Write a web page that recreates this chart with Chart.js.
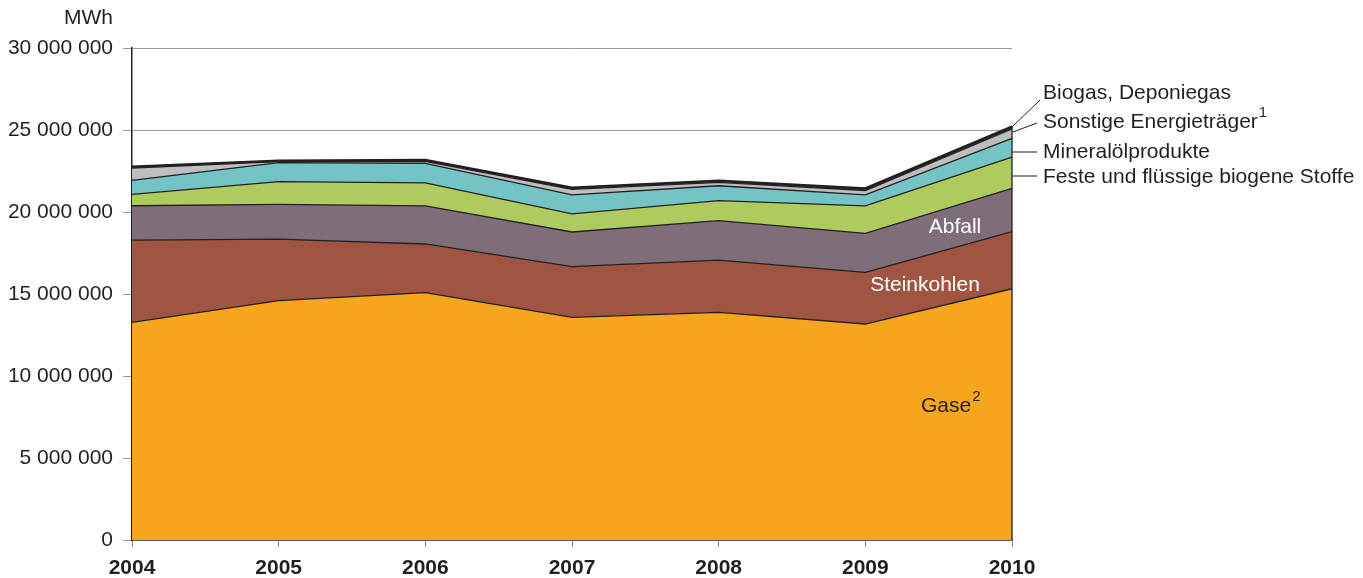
<!DOCTYPE html>
<html>
<head>
<meta charset="utf-8">
<script src="https://cdn.jsdelivr.net/npm/chart.js@4/dist/chart.umd.min.js"></script>
<style>
  body { margin: 0; background: #fff; }
  canvas { display: block; }
</style>
</head>
<body>
<canvas id="chartCanvas" width="1363" height="578"></canvas>
<script>
// --- Data (MWh) ---
const years = ["2004", "2005", "2006", "2007", "2008", "2009", "2010"];
const gase = [13270000, 14590000, 15080000, 13580000, 13880000, 13170000, 15320000];
const steinkohlen = [5020000, 3750000, 2970000, 3090000, 3190000, 3150000, 3480000];
const abfall = [2090000, 2130000, 2320000, 2110000, 2400000, 2380000, 2640000];
const feste = [700000, 1380000, 1400000, 1100000, 1220000, 1670000, 1900000];
const mineral = [850000, 1160000, 1200000, 1160000, 910000, 670000, 1150000];
const sonstige = [750000, 60000, 120000, 340000, 210000, 260000, 570000];
const biogas = [80000, 60000, 80000, 100000, 100000, 140000, 140000];
const yTicks = [0, 5000000, 10000000, 15000000, 20000000, 25000000, 30000000];

const FONT = "'Liberation Sans', Arial, Helvetica, sans-serif";
const INK = "#231f20";

function fmt(v) {
  return String(v).replace(/\B(?=(\d{3})+(?!\d))/g, " ");
}

function layer(label, data, color, fill, width) {
  return {
    label, data,
    backgroundColor: color,
    borderColor: INK,
    borderWidth: width || 1.3,
    fill,
    pointRadius: 0,
    tension: 0
  };
}

// labels, leader lines and right edge
const annotate = {
  id: "annotate",
  afterDatasetsDraw(chart) {
    const { ctx, scales: { x, y } } = chart;
    const last = years.length - 1;
    const xr = x.getPixelForValue(last);
    const total = gase[last] + steinkohlen[last] + abfall[last] + feste[last] +
      mineral[last] + sonstige[last] + biogas[last];

    ctx.save();
    // right edge of the area
    ctx.strokeStyle = INK;
    ctx.lineWidth = 1.3;
    ctx.beginPath();
    ctx.moveTo(xr, y.getPixelForValue(total));
    ctx.lineTo(xr, y.getPixelForValue(0));
    ctx.stroke();

    // unit
    ctx.fillStyle = INK;
    ctx.font = "21px " + FONT;
    ctx.textAlign = "right";
    ctx.textBaseline = "middle";
    ctx.fillText("MWh", 113, 18);

    // labels inside the areas
    ctx.textAlign = "center";
    ctx.fillStyle = "#fff";
    ctx.fillText("Steinkohlen", 925, 285);
    ctx.fillText("Abfall", 955, 227);
    ctx.fillStyle = INK;
    ctx.textAlign = "left";
    ctx.fillText("Gase", 921, 406);
    const gw = ctx.measureText("Gase").width;
    ctx.font = "15px " + FONT;
    ctx.fillText("2", 921 + gw + 1, 397);

    // leader lines
    ctx.strokeStyle = INK;
    ctx.lineWidth = 1;
    const leaders = [
      [xr, 127, 1040, 100],
      [xr + 1, 132, 1037, 123],
      [xr, 152, 1037, 152],
      [xr, 176, 1037, 176]
    ];
    leaders.forEach(l => {
      ctx.beginPath();
      ctx.moveTo(l[0], l[1]);
      ctx.lineTo(l[2], l[3]);
      ctx.stroke();
    });

    ctx.font = "21px " + FONT;
    ctx.fillText("Biogas, Deponiegas", 1043, 93);
    ctx.fillText("Sonstige Energieträger", 1043, 122);
    const sw = ctx.measureText("Sonstige Energieträger").width;
    ctx.fillText("Mineralölprodukte", 1043, 152);
    ctx.fillText("Feste und flüssige biogene Stoffe", 1043, 177);
    ctx.font = "15px " + FONT;
    ctx.fillText("1", 1043 + sw + 1, 113);
    ctx.restore();
  }
};

new Chart(document.getElementById("chartCanvas"), {
  type: "line",
  data: {
    labels: years,
    datasets: [
      layer("Gase", gase, "#f6a51c", "origin"),
      layer("Steinkohlen", steinkohlen, "#a05442", "-1"),
      layer("Abfall", abfall, "#7f6e79", "-1"),
      layer("Feste und flüssige biogene Stoffe", feste, "#aecc5e", "-1"),
      layer("Mineralölprodukte", mineral, "#75c4c5", "-1"),
      layer("Sonstige Energieträger", sonstige, "#bdbec0", "-1"),
      layer("Biogas, Deponiegas", biogas, "#3a3a3a", "-1", 2.5)
    ]
  },
  options: {
    responsive: false,
    animation: false,
    layout: { padding: { top: 48, right: 351, left: 0, bottom: 0 } },
    plugins: {
      legend: { display: false },
      tooltip: { enabled: false }
    },
    scales: {
      x: {
        offset: false,
        grid: { drawOnChartArea: false, tickLength: 7, color: "#8a8a8a" },
        border: { color: INK, width: 1.5 },
        ticks: {
          color: INK,
          font: { family: FONT, size: 21, weight: "bold" },
          padding: 9,
          maxRotation: 0
        },
        afterFit: s => { s.height = 38; }
      },
      y: {
        stacked: true,
        min: 0,
        max: 30000000,
        afterBuildTicks: s => { s.ticks = yTicks.map(v => ({ value: v })); },
        grid: { color: "#9a9a9a", tickLength: 9, lineWidth: 1 },
        border: { color: INK, width: 1.5 },
        ticks: {
          color: INK,
          font: { family: FONT, size: 21 },
          padding: 10,
          callback: v => fmt(v)
        },
        afterFit: s => { s.width = 132; }
      }
    }
  },
  plugins: [annotate]
});
</script>
</body>
</html>
